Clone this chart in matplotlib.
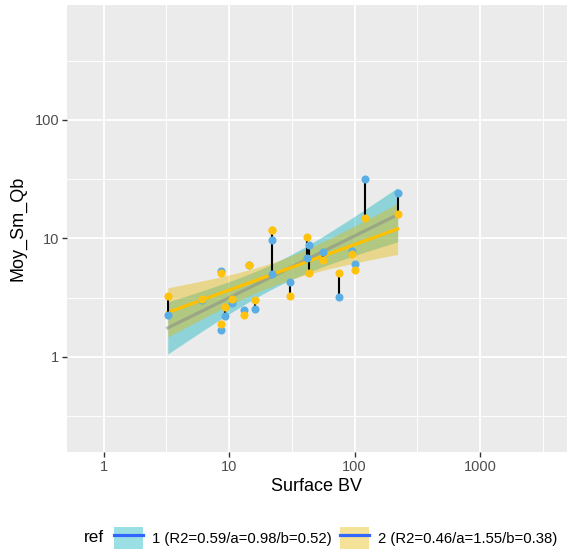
import numpy as np
import matplotlib.pyplot as plt
from matplotlib.patches import Patch
from matplotlib.lines import Line2D

plt.rcParams['font.family'] = ['Liberation Sans', 'DejaVu Sans']

# surface of the basin and the two Moy_Sm_Qb values (ref 1 = blue, ref 2 = yellow)
surface = [3.24, 6.1, 8.6, 8.6, 9.26, 10.6, 13.2, 14.4, 16.1, 22.0,
           22.0, 30.3, 41.9, 43.0, 55.6, 75.4, 94.7, 100.5, 120.8, 220]
qb_ref1 = [2.24, 3.0, 5.27, 1.69, 2.22, 2.86, 2.47, 5.99, 2.53, 9.68,
           5.03, 4.3, 6.86, 8.79, 7.62, 3.21, 7.87, 6.07, 31.5, 24.0]
qb_ref2 = [3.26, 3.09, 5.1, 1.9, 2.63, 3.09, 2.26, 5.99, 3.01, 11.7,
           11.7, 3.26, 10.3, 5.07, 6.53, 5.07, 7.42, 5.37, 14.9, 16.0]
labels = ['1 (R2=0.59/a=0.98/b=0.52)', '2 (R2=0.46/a=1.55/b=0.38)']

fill_cols = ['#00AFBB', '#E7B800']
point_cols = ['#5AAEE3', '#FFC20E']
line_cols = ['#8a8a8a', '#FFC000']
line_alpha = [0.55, 1.0]


def lm_band(x, y, n_grid=80):
    # linear fit in log-log space + 95% confidence band (t, df = n-2 = 18)
    lx, ly = np.log10(x), np.log10(y)
    n = len(lx)
    b, a = np.polyfit(lx, ly, 1)
    res = ly - (a + b * lx)
    s2 = np.sum(res ** 2) / (n - 2)
    sxx = np.sum((lx - lx.mean()) ** 2)
    g = np.linspace(lx.min(), lx.max(), n_grid)
    fit = a + b * g
    se = np.sqrt(s2 * (1.0 / n + (g - lx.mean()) ** 2 / sxx))
    t = 2.101
    return 10 ** g, 10 ** fit, 10 ** (fit - t * se), 10 ** (fit + t * se)


fig = plt.figure(figsize=(5.68, 5.56), dpi=100)
ax = fig.add_axes([66.7 / 568, 104 / 556, (567 - 66.7) / 568, (452 - 4.7) / 556])
ax.set_facecolor('#EBEBEB')
for s in ax.spines.values():
    s.set_visible(False)

ax.set_xscale('log')
ax.set_yscale('log')
ax.set_xlim(10 ** -0.295, 10 ** 3.692)
ax.set_ylim(10 ** -0.805, 10 ** 2.974)

xmaj = [1, 10, 100, 1000]
ymaj = [1, 10, 100]
ax.set_xticks(xmaj)
ax.set_xticklabels(['1', '10', '100', '1000'])
ax.set_yticks(ymaj)
ax.set_yticklabels(['1', '10', '100'])
ax.set_xticks([10 ** 0.5, 10 ** 1.5, 10 ** 2.5, 10 ** 3.5], minor=True)
ax.set_yticks([10 ** -0.5, 10 ** 0.5, 10 ** 1.5, 10 ** 2.5], minor=True)
ax.set_xticklabels([], minor=True)
ax.set_yticklabels([], minor=True)
ax.tick_params(which='minor', length=0)
ax.tick_params(which='major', length=3.5, width=1, color='#333333',
               labelcolor='#4D4D4D', labelsize=10.5, pad=2)
ax.grid(which='major', color='white', linewidth=1.3)
ax.grid(which='minor', color='white', linewidth=0.65)
ax.set_axisbelow(True)

x = np.array(surface)
ys = [np.array(qb_ref1), np.array(qb_ref2)]

for i, y in enumerate(ys):
    gx, fit, lo, hi = lm_band(x, y)
    ax.fill_between(gx, lo, hi, color=fill_cols[i], alpha=0.4, linewidth=0, zorder=2)
for i, y in enumerate(ys):
    gx, fit, lo, hi = lm_band(x, y)
    ax.plot(gx, fit, color=line_cols[i], alpha=line_alpha[i], linewidth=2.3, zorder=3)

ax.vlines(x, ys[0], ys[1], color='black', linewidth=1.5, zorder=4)
for i, y in enumerate(ys):
    ax.scatter(x, y, s=34, color=point_cols[i], linewidths=0, zorder=5)

ax.set_xlabel('Surface BV', fontsize=13, color='black', labelpad=3)
ax.set_ylabel('Moy_Sm_Qb', fontsize=13, color='black', labelpad=6)

handles = []
for i in range(2):
    handles.append((Patch(facecolor=fill_cols[i], alpha=0.4, edgecolor='none'),
                    Line2D([], [], color='#3366FF', linewidth=2.3)))
fig.text(84 / 568, (556 - 538) / 556, 'ref', fontsize=12.3, va='center', ha='left')
fig.legend(handles, labels, loc='center left', bbox_to_anchor=(114 / 568, (556 - 538) / 556),
           ncol=2, frameon=False, fontsize=10.7, handlelength=1.95, handleheight=1.95,
           handletextpad=0.6, columnspacing=0.6, borderpad=0, borderaxespad=0)

fig.savefig('out.png', dpi=100)
